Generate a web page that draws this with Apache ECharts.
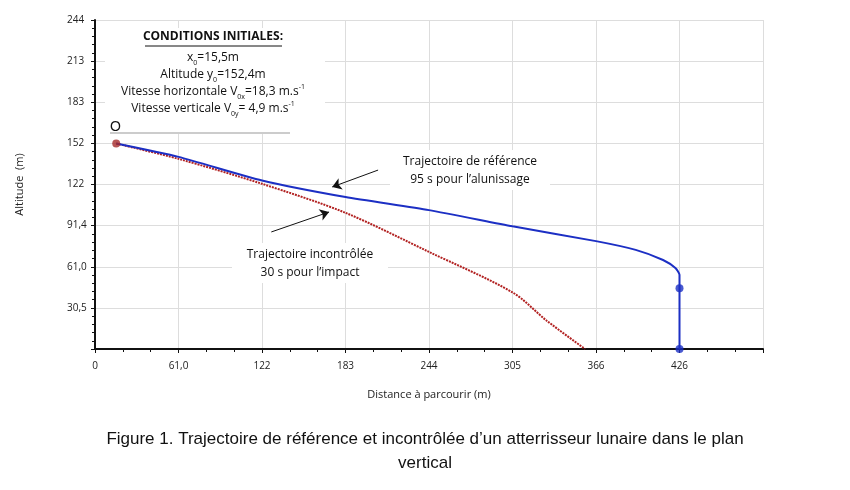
<!DOCTYPE html>
<html><head><meta charset="utf-8">
<script src="https://cdn.jsdelivr.net/npm/echarts@6/dist/echarts.min.js"></script>
<style>html,body{margin:0;background:#fff}#c{width:850px;height:490px}</style>
</head><body><div id="c"></div>
<script>
const xTickLabels = {0:'0',61:'61,0',122:'122',183:'183',244:'244',305:'305',366:'366',427:'426'};
const yTickLabels = {0:'',30.5:'30,5',61:'61,0',91.5:'91,4',122:'122',152.5:'152',183:'183',213.5:'213',244:'244'};
const refX = [15.5, 61, 122, 183, 244, 305, 366, 395, 415, 424, 427, 427, 427];
const refY = [152.4, 142.5, 125, 112.7, 103, 91, 80, 73.5, 66, 60, 55, 45, 0];
const uncX = [15.5, 61, 122, 183, 244, 305, 330, 358];
const uncY = [152.4, 141, 122.5, 101, 72, 42, 21, 0];
const dotsX = [15.5, 427, 427];
const dotsY = [152.4, 45, 0];
const dotColors = ['#a52a2a', '#1c2fc4', '#1c2fc4'];

const F = 'Open Sans, sans-serif';
const chart = echarts.init(document.getElementById('c'));
const pairs = (xs, ys) => xs.map((x, i) => [x, ys[i]]);
chart.setOption({
  animation:false,
  grid:{left:95,right:87,top:20,bottom:141},
  xAxis:{type:'value',min:0,max:488,interval:61,
    name:'Distance à parcourir (m)',nameLocation:'middle',nameGap:40,nameTextStyle:{fontFamily:F,fontSize:11,color:'#222'},
    axisLine:{lineStyle:{color:'#111',width:2}},axisTick:{show:true,length:4,lineStyle:{color:'#111'}},
    minorTick:{show:true,splitNumber:3,length:3,lineStyle:{color:'#111'}},
    axisLabel:{fontFamily:F,fontSize:10,color:'#222',margin:12,formatter:v=>xTickLabels[Math.round(v)]??''},
    splitLine:{show:true,lineStyle:{color:'#ddd'}}},
  yAxis:{type:'value',min:0,max:244,interval:30.5,
    name:'Altitude  (m)',nameLocation:'middle',nameGap:70,nameTextStyle:{fontFamily:F,fontSize:11,color:'#222'},
    axisLine:{show:true,lineStyle:{color:'#111',width:2}},axisTick:{show:true,length:4,lineStyle:{color:'#111'}},
    minorTick:{show:true,splitNumber:5,length:3,lineStyle:{color:'#111'}},
    axisLabel:{fontFamily:F,fontSize:10,color:'#222',margin:28,align:'left',formatter:v=>yTickLabels[v]??''},
    splitLine:{show:true,lineStyle:{color:'#ddd'}}},
  series:[
    {type:'line',data:pairs(refX,refY),showSymbol:false,smooth:0.2,lineStyle:{color:'#1c2fc4',width:2},z:3,
     markLine:{silent:true,symbol:['none','arrow'],symbolSize:9,label:{show:false},lineStyle:{color:'#111',width:1,type:'solid'},
      data:[[{coord:[206.8,132.7]},{coord:[173.3,120.2]}],[{coord:[128.8,86.8]},{coord:[171,101.6]}]]}},
    {type:'line',data:pairs(uncX,uncY),showSymbol:false,smooth:0.3,lineStyle:{color:'#b22222',width:2,type:[2,1]},z:2},
    {type:'scatter',data:pairs(dotsX,dotsY).map((p,i)=>({value:p,itemStyle:{color:dotColors[i]}})),symbolSize:8,z:5}
  ],
  graphic:[
    {type:'rect',shape:{x:105,y:28,width:220,height:104},style:{fill:'#fff'},z:10},
    {type:'line',shape:{x1:110,y1:133,x2:290,y2:133},style:{stroke:'#ccc',lineWidth:2},z:10},
    {type:'text',x:213,y:31,z:11,style:{text:'CONDITIONS INITIALES:',font:'bold 12px '+F,fill:'#111',align:'center'}},
    {type:'line',shape:{x1:145,y1:46,x2:282,y2:46},style:{stroke:'#111',lineWidth:1},z:11},
    {type:'text',x:213,y:49,z:11,style:{align:'center',fill:'#111',font:'12px '+F,
      text:'{n|x}{s|0}{n|=15,5m}\n{n|Altitude y}{s|0}{n|=152,4m}\n{n|Vitesse horizontale V}{s|0x}{n|=18,3 m.s}{u|-1}\n{n|Vitesse verticale V}{s|0y}{n|= 4,9 m.s}{u|-1}',
      rich:{n:{fontFamily:F,fontSize:12,lineHeight:17,fill:'#111'},s:{fontFamily:F,fontSize:7,verticalAlign:'bottom',lineHeight:17,padding:[5,0,0,0],fill:'#111'},u:{fontFamily:F,fontSize:7,verticalAlign:'top',lineHeight:17,padding:[0,0,6,0],fill:'#111'}}}},
    {type:'text',x:110,y:120,z:11,style:{text:'O',font:'14px Arial',fill:'#111'}},
    {type:'rect',shape:{x:390,y:150,width:160,height:40},style:{fill:'#fff'},z:10},
    {type:'text',x:470,y:153,z:11,style:{text:'Trajectoire de référence\n95 s pour l’alunissage',font:'12px '+F,lineHeight:18,fill:'#111',align:'center'}},
    {type:'rect',shape:{x:232,y:243,width:156,height:40},style:{fill:'#fff'},z:10},
    {type:'text',x:310,y:246,z:11,style:{text:'Trajectoire incontrôlée\n30 s pour l’impact',font:'12px '+F,lineHeight:18,fill:'#111',align:'center'}},
    {type:'text',x:425,y:427,z:11,style:{text:'Figure 1. Trajectoire de référence et incontrôlée d’un atterrisseur lunaire dans le plan\nvertical',font:'17px Liberation Sans',lineHeight:24,fill:'#111',align:'center'}}
  ]
});
</script></body></html>
